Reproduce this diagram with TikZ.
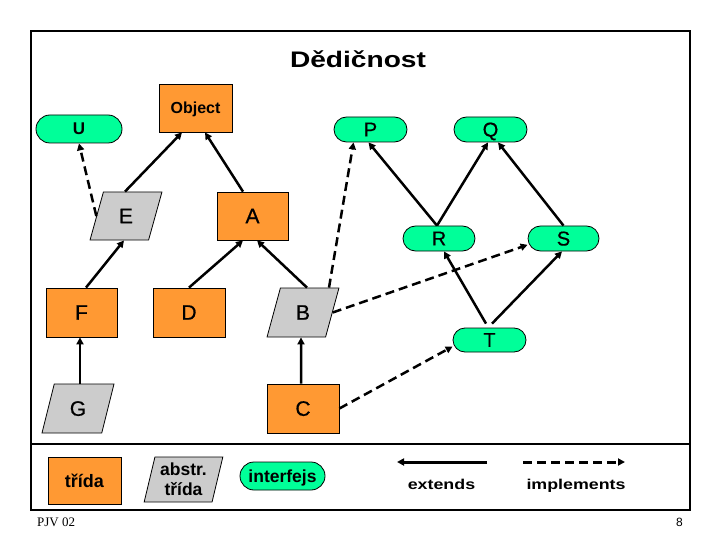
\documentclass[tikz,border=0pt]{standalone}
\usepackage{fontspec}
\setmainfont{Liberation Sans}
\newfontfamily\widefont[FakeStretch=1.25]{Liberation Sans}
\newfontfamily\heavyfont[FakeBold=0.6]{Liberation Sans}
\newfontfamily\footfont{Liberation Serif}
\usetikzlibrary{shapes.geometric,arrows.meta}
\definecolor{clsorange}{RGB}{255,153,51}
\definecolor{ifgreen}{RGB}{0,255,153}
\definecolor{absgray}{RGB}{204,204,204}
\begin{document}
\begin{tikzpicture}[x=1pt,y=-1pt,
  box/.style={draw=black,line width=0.8pt,inner sep=0pt},
  clsbox/.style={box,fill=clsorange,minimum width=72pt,minimum height=48pt},
  absbox/.style={box,fill=absgray,trapezium,trapezium left angle=74,trapezium right angle=106,trapezium stretches=true,minimum width=72pt,minimum height=48pt},
  ifbox/.style={box,fill=ifgreen,rounded corners=12.5pt,minimum width=72pt,minimum height=25pt},
  letter/.style={text depth=0pt,font=\heavyfont\fontsize{21}{21}\selectfont},
  pletter/.style={text depth=0pt,font=\heavyfont\fontsize{20}{20}\selectfont},
  boldlbl/.style={font=\bfseries\fontsize{17.5}{20}\selectfont},
  ext/.style={line width=2.5pt,-{Triangle[length=7pt,width=7pt]}},
  impl/.style={ext,dash pattern=on 9pt off 5pt},
  legline/.style={line width=3pt,-{Triangle[length=7pt,width=7pt]}},
]
\useasboundingbox (0,0) rectangle (720,540);
% frame
\draw[line width=2pt] (31,31) rectangle (690,510);
\draw[line width=2pt] (31,444) -- (690,444);
% title
\node[anchor=base,font=\widefont\bfseries\fontsize{22.5}{22.5}\selectfont] (title) at (358,67.5) {Dědičnost};
% class nodes
\node[clsbox,minimum width=73pt,text depth=0pt,font=\bfseries\fontsize{16}{16}\selectfont] (obj) at (195.5,108) {Object};
\node[ifbox,minimum width=86pt,minimum height=28pt,rounded corners=14pt,font=\bfseries\fontsize{17}{17}\selectfont] (U) at (79,129) {U};
\node[ifbox,pletter,minimum width=73pt] (P) at (370.5,129.5) {P};
\node[ifbox,pletter,minimum width=73pt] (Q) at (490.5,129.5) {Q};
\node[absbox,letter] (E) at (126,216) {E};
\node[clsbox,letter,minimum width=71pt] (A) at (252.5,216) {A};
\node[ifbox,pletter] (R) at (439,238.5) {R};
\node[ifbox,pletter,minimum width=71pt] (S) at (563.5,238.5) {S};
\node[clsbox,letter,minimum width=71pt,minimum height=49pt] (F) at (81.5,312.5) {F};
\node[clsbox,letter,minimum height=49pt] (D) at (189,312.5) {D};
\node[absbox,letter,minimum height=49pt] (B) at (303,312.5) {B};
\node[ifbox,pletter,minimum width=73pt,minimum height=24pt,rounded corners=12pt] (T) at (489.5,340) {T};
\node[absbox,letter,minimum height=49pt] (G) at (78,408.5) {G};
\node[clsbox,letter,minimum height=49pt] (C) at (303,408.5) {C};
% legend
\node[clsbox,minimum width=73pt,minimum height=47pt,font=\bfseries\fontsize{18}{18}\selectfont] (lcls) at (84.5,480.5) {třída};
\node[absbox,boldlbl,align=center,minimum width=79pt,minimum height=45pt,trapezium left angle=75,trapezium right angle=105] (labs) at (183.5,479.5) {abstr.\\třída};
\node[ifbox,boldlbl,text depth=0pt,minimum width=85pt,minimum height=28pt,rounded corners=14pt] (liface) at (282.5,476) {interfejs};
\coordinate (ea) at (397,462);
\coordinate (eb) at (487,462);
\coordinate (ia) at (523,462);
\coordinate (ib) at (625,462);
\draw[legline] (eb) -- (ea);
\draw[legline,dash pattern=on 9pt off 5pt] (ia) -- (ib);
\node[anchor=base,font=\widefont\bfseries\fontsize{14.25}{14.25}\selectfont] (lext) at (441.5,489.5) {extends};
\node[anchor=base,font=\widefont\bfseries\fontsize{14.25}{14.25}\selectfont] (limpl) at (576,489.5) {implements};
% footer
\node[anchor=base west,inner sep=0pt,font=\footfont\fontsize{13}{13}\selectfont] (pjv) at (37,526.5) {PJV 02};
\node[anchor=base,inner sep=0pt,font=\fontsize{12}{12}\selectfont] (pnum) at (679.5,526.5) {8};
% connectors
\draw[ext] ([xshift=-1pt]E.north) -- ([xshift=-13.5pt]obj.south);
\draw[ext] ([xshift=-9.5pt]A.north) -- ([xshift=9.5pt]obj.south);
\draw[impl] (E.west) -- (U.south);
\draw[ext] ([xshift=4.5pt]F.north) -- ([xshift=-2pt]E.south);
\draw[ext] (D.north) -- ([xshift=-9.5pt]A.south);
\draw[ext] ([xshift=4pt]B.north) -- ([xshift=4.5pt]A.south);
\draw[ext] ([xshift=-1.5pt]F.south |- G.north) -- ([xshift=-1.5pt]F.south);
\draw[ext] ([xshift=-2pt]C.north) -- ([xshift=-2pt]B.south);
\draw[impl] ([xshift=26pt]B.north) -- ([xshift=-17pt]P.south);
\draw[impl] (B.east) -- (S.190);
\draw[impl] (C.east) -- (T.190);
\draw[ext] ([xshift=-2pt]R.north) -- ([xshift=-2pt]P.south);
\draw[ext] ([xshift=-2pt]R.north) -- ([xshift=-2.5pt]Q.south);
\draw[ext] (S.north) -- ([xshift=7.5pt]Q.south);
\draw[ext] ([xshift=-3.5pt,yshift=4pt]T.north) -- ([xshift=5pt]R.south);
\draw[ext] ([xshift=2.5pt,yshift=4pt]T.north) -- ([xshift=-1.5pt]S.south);
\end{tikzpicture}
\end{document}
